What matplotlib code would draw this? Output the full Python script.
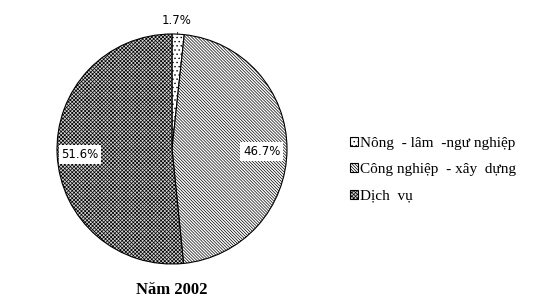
import matplotlib
matplotlib.use("Agg")
import matplotlib.pyplot as plt

categories = ["Nông  - lâm  -ngư nghiệp", "Công nghiệp  - xây  dựng", "Dịch  vụ"]
values = [1.7, 46.7, 51.6]
labels = ["1.7%", "46.7%", "51.6%"]
title = "Năm 2002"
hatches = ["....", "\\" * 11, "x" * 9]

plt.rcParams['hatch.linewidth'] = 0.5
fig = plt.figure(figsize=(5.42, 3.05), dpi=100)
cx, cy, r = 172/542, 1 - 149/305, 115
ax = fig.add_axes([cx - r/542, cy - r/305, 2*r/542, 2*r/305])
wedges, _ = ax.pie(values, startangle=90, counterclock=False, radius=1,
                   colors=["white", "white", "#d4d4d4"],
                   wedgeprops=dict(edgecolor="black", linewidth=0.8))
for w, h in zip(wedges, hatches):
    w.set_hatch(h)
ax.set_xlim(-1, 1)
ax.set_ylim(-1, 1)
ax.set_aspect("equal")
ax.axis("off")

tf = dict(family="DejaVu Sans", fontsize=8.5, color="black")
ax.annotate(labels[0], xy=(0.05, 1.0), xytext=(0.04, 1.12), ha="center", va="center",
            arrowprops=dict(arrowstyle="-", lw=0.6, color="black"), **tf)
ax.text(0.78, -0.02, labels[1], ha="center", va="center",
        bbox=dict(facecolor="white", edgecolor="none", pad=2), **tf)
ax.text(-0.80, -0.05, labels[2], ha="center", va="center",
        bbox=dict(facecolor="white", edgecolor="none", pad=2), **tf)

fig.text(172/542, 1 - 290/305, title, ha="center", va="center",
         family="Liberation Serif", fontweight="bold", fontsize=12)

leg = fig.legend(wedges, categories, loc="upper left", bbox_to_anchor=(336/542, 1 - 123/305),
                 frameon=False, handlelength=0.55, handleheight=0.55, handletextpad=0.1,
                 labelspacing=0.88, prop=dict(family="Liberation Serif", size=11))
fig.savefig("out.png", dpi=100)
